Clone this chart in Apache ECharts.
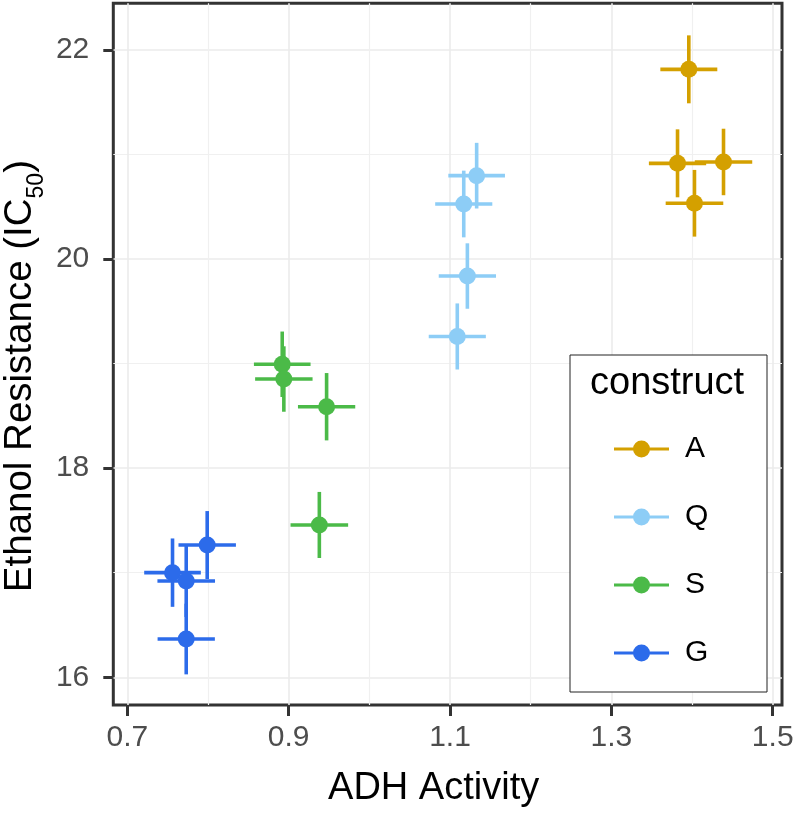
<!DOCTYPE html>
<html>
<head>
<meta charset="utf-8">
<script src="https://cdn.jsdelivr.net/npm/echarts@6/dist/echarts.min.js"></script>
<style>
  html, body { margin: 0; padding: 0; background: #fff; }
  #chart { width: 793px; height: 816px; }
</style>
</head>
<body>
<div id="chart"></div>
<script>
// ---- data ----
const constructs = ['A', 'Q', 'S', 'G'];

const adh_A = [1.396, 1.382, 1.439, 1.403];
const eth_A = [21.815, 20.916, 20.929, 20.534];
const adhSE_A = [0.0353, 0.0355, 0.0356, 0.0357];
const ethSE_A = [0.325, 0.325, 0.318, 0.319];

const adh_Q = [1.133, 1.117, 1.1215, 1.109];
const eth_Q = [20.798, 20.527, 19.838, 19.26];
const adhSE_Q = [0.0351, 0.0354, 0.0355, 0.0354];
const ethSE_Q = [0.314, 0.319, 0.313, 0.316];

const adh_S = [0.892, 0.894, 0.947, 0.938];
const eth_S = [18.994, 18.853, 18.588, 17.457];
const adhSE_S = [0.0351, 0.0356, 0.0355, 0.0357];
const ethSE_S = [0.313, 0.313, 0.322, 0.316];

const adh_G = [0.799, 0.756, 0.773, 0.773];
const eth_G = [17.265, 17.001, 16.921, 16.366];
const adhSE_G = [0.0356, 0.0351, 0.0357, 0.0355];
const ethSE_G = [0.325, 0.327, 0.344, 0.338];

const xMajorTicks = [0.7, 0.9, 1.1, 1.3, 1.5];
const xMinorTicks = [0.8, 1.0, 1.2, 1.4];
const yMajorTicks = [16, 18, 20, 22];
const yMinorTicks = [17, 19, 21];

const xTitle = 'ADH Activity';
const yTitle = 'Ethanol Resistance (IC{sub|50})';
const legendTitle = 'construct';

// ---- styling ----
const colors = { A: '#D4A000', Q: '#8DCDF6', S: '#4BBA48', G: '#2C6BEA' };
const FONT = "'Liberation Sans', Arial, Helvetica, sans-serif";
const X_MIN = 0.6826, X_MAX = 1.5115, Y_MIN = 15.735, Y_MAX = 22.4476;

const groups = {
  A: [adh_A, eth_A, adhSE_A, ethSE_A],
  Q: [adh_Q, eth_Q, adhSE_Q, ethSE_Q],
  S: [adh_S, eth_S, adhSE_S, ethSE_S],
  G: [adh_G, eth_G, adhSE_G, ethSE_G]
};

const series = [];
constructs.forEach(function (c, i) {
  const g = groups[c];
  const rows = g[0].map(function (x, k) { return [x, g[1][k], g[2][k], g[3][k]]; });
  series.push({
    name: c + ' error',
    type: 'custom',
    xAxisIndex: 0, yAxisIndex: 0,
    z: 3,
    silent: true,
    data: rows,
    encode: { x: 0, y: 1 },
    renderItem: function (params, api) {
      const x = api.value(0), y = api.value(1), xe = api.value(2), ye = api.value(3);
      const l = api.coord([x - xe, y]), r = api.coord([x + xe, y]);
      const t = api.coord([x, y + ye]), b = api.coord([x, y - ye]);
      const style = { stroke: colors[c], lineWidth: 3.6, fill: null };
      return {
        type: 'group',
        children: [
          { type: 'line', shape: { x1: l[0], y1: l[1], x2: r[0], y2: r[1] }, style: style },
          { type: 'line', shape: { x1: t[0], y1: t[1], x2: b[0], y2: b[1] }, style: style }
        ]
      };
    }
  });
  series.push({
    name: c,
    type: 'scatter',
    xAxisIndex: 0, yAxisIndex: 0,
    z: 4,
    symbol: 'circle',
    symbolSize: 17,
    itemStyle: { color: colors[c], opacity: 1 },
    data: rows.map(function (r) { return [r[0], r[1]]; })
  });
});

const legendIcon = 'path://M0,7L55,7L55,10L0,10Z M19,8.5A8.5,8.5,0,1,1,36,8.5A8.5,8.5,0,1,1,19,8.5Z';

const option = {
  backgroundColor: '#ffffff',
  animation: false,
  textStyle: { fontFamily: FONT },
  grid: {
    left: 113.3, top: 3.2, right: 11, bottom: 111,
    show: true, borderColor: '#333333', borderWidth: 3, backgroundColor: 'transparent',
    containLabel: false,
    outerBoundsMode: 'none'
  },
  title: {
    text: legendTitle,
    left: 590, top: 362,
    padding: 0,
    textStyle: { fontFamily: FONT, fontSize: 38, fontWeight: 'normal', color: '#000', lineHeight: 44 }
  },
  legend: {
    orient: 'vertical',
    left: 570, top: 355,
    padding: [79, 47, 24, 44],
    backgroundColor: '#ffffff',
    borderColor: '#222222', borderWidth: 1,
    itemWidth: 55, itemHeight: 17, itemGap: 38,
    icon: legendIcon,
    data: constructs,
    selectedMode: false,
    textStyle: { fontFamily: FONT, fontSize: 30, lineHeight: 30, color: '#000', padding: [0, 0, 0, 11], width: 35 }
  },
  xAxis: [
    {
      type: 'value', min: X_MIN, max: X_MAX, position: 'bottom',
      name: xTitle, nameLocation: 'middle', nameGap: 62, nameMoveOverlap: false,
      nameTextStyle: { fontFamily: FONT, fontSize: 38, color: '#000', lineHeight: 44, padding: [0, 28, 0, 0] },
      axisLine: { show: false },
      axisTick: { show: true, inside: false, length: 11, customValues: xMajorTicks, lineStyle: { color: '#333333', width: 3 } },
      axisLabel: { show: true, customValues: xMajorTicks, margin: 18, fontSize: 30, color: '#4D4D4D', fontFamily: FONT,
        formatter: function (v) { return v.toFixed(1); } },
      splitLine: { show: true, lineStyle: { color: '#EBEBEB', width: 1.6 } }
    },
    {
      type: 'value', min: X_MIN, max: X_MAX, position: 'top',
      axisLine: { show: false },
      axisTick: { show: false, customValues: xMinorTicks },
      axisLabel: { show: false, customValues: xMinorTicks },
      splitLine: { show: true, lineStyle: { color: '#F0F0F0', width: 1.2 } }
    }
  ],
  yAxis: [
    {
      type: 'value', min: Y_MIN, max: Y_MAX, position: 'left',
      name: yTitle, nameLocation: 'middle', nameGap: 65, nameRotate: 90, nameMoveOverlap: false,
      nameTextStyle: {
        fontFamily: FONT, fontSize: 38.5, color: '#000', lineHeight: 56, padding: [0, 44, 0, 0],
        rich: { sub: { fontFamily: FONT, fontSize: 23, lineHeight: 23, color: '#000', padding: [33, 0, 0, 0] } }
      },
      axisLine: { show: false },
      axisTick: { show: true, inside: false, length: 10, customValues: yMajorTicks, lineStyle: { color: '#333333', width: 3 } },
      axisLabel: { show: true, customValues: yMajorTicks, margin: 24, fontSize: 30, color: '#4D4D4D', fontFamily: FONT },
      splitLine: { show: true, lineStyle: { color: '#EBEBEB', width: 1.6 } }
    },
    {
      type: 'value', min: Y_MIN, max: Y_MAX, position: 'right',
      axisLine: { show: false },
      axisTick: { show: false, customValues: yMinorTicks },
      axisLabel: { show: false, customValues: yMinorTicks },
      splitLine: { show: true, lineStyle: { color: '#F0F0F0', width: 1.2 } }
    }
  ],
  series: series
};

const chart = echarts.init(document.getElementById('chart'), null, { renderer: 'canvas' });
chart.setOption(option);
</script>
</body>
</html>
